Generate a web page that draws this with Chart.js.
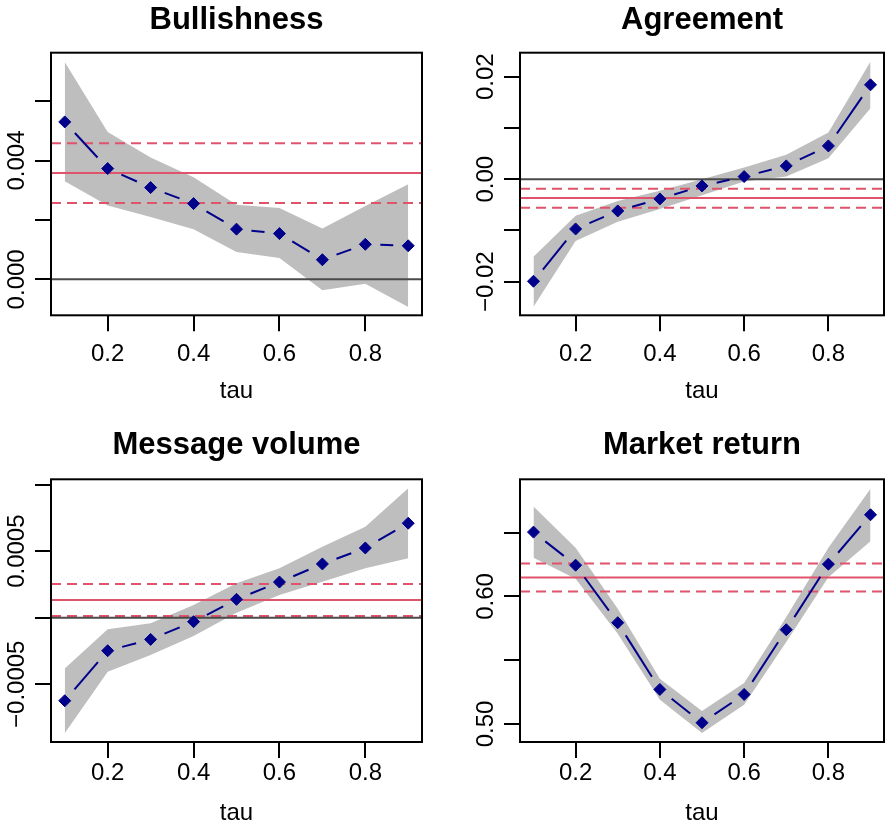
<!DOCTYPE html>
<html>
<head>
<meta charset="utf-8">
<script src="https://cdn.jsdelivr.net/npm/chart.js@4/dist/chart.umd.min.js"></script>
<style>
  html, body { margin: 0; padding: 0; background: #fff; width: 891px; height: 826px; overflow: hidden; }
  canvas { position: absolute; }
</style>
</head>
<body>
<canvas id="bull" width="445" height="413" style="left:0;top:0"></canvas>
<canvas id="agree" width="446" height="413" style="left:445px;top:0"></canvas>
<canvas id="msg" width="445" height="420" style="left:0;top:413px"></canvas>
<canvas id="mkt" width="446" height="420" style="left:445px;top:413px"></canvas>
<script>
// Quantile levels
const TAU = [0.1, 0.2, 0.3, 0.4, 0.5, 0.6, 0.7, 0.8, 0.9];
const TAU_TICKS = [0.2, 0.4, 0.6, 0.8];
const TAU_TICK_LABELS = ['0.2', '0.4', '0.6', '0.8'];
const TAU_MIN = 0.068, TAU_MAX = 0.932;

// Bullishness
const BULL_EST   = [0.00530, 0.00373, 0.00309, 0.00255, 0.00169, 0.00154, 0.00066, 0.00118, 0.00113];
const BULL_UPPER = [0.00732, 0.00496, 0.00410, 0.00344, 0.00251, 0.00240, 0.00171, 0.00247, 0.00320];
const BULL_LOWER = [0.00330, 0.00249, 0.00210, 0.00169, 0.00092, 0.00072, -0.00037, -0.00015, -0.00093];
const BULL_OLS = 0.00358, BULL_OLS_LO = 0.00257, BULL_OLS_HI = 0.00458;
const BULL_TICKS = [0, 0.002, 0.004, 0.006];
const BULL_TICK_LABELS = ['0.000', '', '0.004', ''];

// Agreement
const AGREE_EST   = [-0.01992, -0.00971, -0.00619, -0.00385, -0.00131, 0.00051, 0.00260, 0.00650, 0.01842];
const AGREE_UPPER = [-0.01512, -0.00711, -0.00424, -0.00223, 0.00000, 0.00227, 0.00475, 0.00910, 0.02297];
const AGREE_LOWER = [-0.02488, -0.01205, -0.00828, -0.00580, -0.00313, -0.00047, 0.00051, 0.00410, 0.01387];
const AGREE_OLS = -0.00365, AGREE_OLS_LO = -0.00555, AGREE_OLS_HI = -0.00184;
const AGREE_TICKS = [-0.02, -0.01, 0, 0.01, 0.02];
const AGREE_TICK_LABELS = ['\u22120.02', '', '0.00', '', '0.02'];

// Message volume
const MSG_EST   = [-0.000624, -0.000248, -0.000163, -0.000030, 0.000138, 0.000268, 0.000404, 0.000524, 0.000710];
const MSG_UPPER = [-0.000381, -0.000087, -0.000042, 0.000095, 0.000259, 0.000371, 0.000534, 0.000684, 0.000973];
const MSG_LOWER = [-0.000869, -0.000406, -0.000281, -0.000138, 0.000038, 0.000171, 0.000271, 0.000371, 0.000447];
const MSG_OLS = 0.000133, MSG_OLS_LO = 0.000013, MSG_OLS_HI = 0.000253;
const MSG_TICKS = [-0.0005, 0, 0.0005, 0.001];
const MSG_TICK_LABELS = ['\u22120.0005', '', '0.0005', ''];

// Market return
const MKT_EST   = [0.6504, 0.6245, 0.5794, 0.5271, 0.5010, 0.5232, 0.5739, 0.6253, 0.6640];
const MKT_UPPER = [0.6705, 0.6382, 0.5904, 0.5355, 0.5101, 0.5321, 0.5838, 0.6382, 0.6843];
const MKT_LOWER = [0.6303, 0.6139, 0.5708, 0.5190, 0.4929, 0.5151, 0.5642, 0.6151, 0.6433];
const MKT_OLS = 0.6149, MKT_OLS_LO = 0.6039, MKT_OLS_HI = 0.6259;
const MKT_TICKS = [0.50, 0.55, 0.60, 0.65];
const MKT_TICK_LABELS = ['0.50', '', '0.60', ''];

const FAMILY = '"Liberation Sans", Arial, Helvetica, sans-serif';
const NAVY = '#00008B';
const RED = '#DF536B';
const BAND = '#BEBEBE';
const TICK_LEN = 16;
const POINT_GAP = 15;   // blank space left around each plotted point
const X_FONT = 24, Y_FONT = 24, TITLE_FONT = 31;

Chart.defaults.color = '#000';
Chart.defaults.font.family = FAMILY;

const measureCtx = document.createElement('canvas').getContext('2d');
function textWidth(str, size) {
  measureCtx.font = size + 'px ' + FAMILY;
  return measureCtx.measureText(str).width;
}

const pts = vals => TAU.map((t, i) => ({ x: t, y: vals[i] }));
const hline = v => [{ x: TAU_MIN, y: v }, { x: TAU_MAX, y: v }];

// frame drawn around the plotting region
const framePlugin = {
  id: 'frame',
  afterDatasetsDraw(chart) {
    const a = chart.chartArea, ctx = chart.ctx;
    ctx.save();
    ctx.strokeStyle = '#000';
    ctx.lineWidth = 2;
    ctx.strokeRect(a.left, a.top, a.right - a.left, a.bottom - a.top);
    ctx.restore();
  }
};

function panel(id, p) {
  const widest = Math.max(...p.tickLabels.map(s => textWidth(s, Y_FONT)));
  const datasets = [
    {
      data: pts(p.est), borderColor: NAVY, borderWidth: 2, fill: false,
      pointStyle: 'rectRot', pointRadius: 6, pointBorderWidth: 1,
      pointBackgroundColor: NAVY, pointBorderColor: NAVY, borderCapStyle: 'butt',
      segment: {
        borderDash: c => {
          const len = Math.hypot(c.p1.x - c.p0.x, c.p1.y - c.p0.y);
          return [0, POINT_GAP, Math.max(0, len - 2 * POINT_GAP), len + 50];
        }
      }
    }
  ];
  if (p.zero) {
    datasets.push({ data: hline(0), borderColor: '#4a4a4a', borderWidth: 2, pointRadius: 0, fill: false });
  }
  datasets.push(
    { data: hline(p.ols), borderColor: RED, borderWidth: 2, pointRadius: 0, fill: false },
    { data: hline(p.olsHi), borderColor: RED, borderWidth: 2, borderDash: [10, 6], pointRadius: 0, fill: false },
    { data: hline(p.olsLo), borderColor: RED, borderWidth: 2, borderDash: [10, 6], pointRadius: 0, fill: false },
    { data: pts(p.upper), borderWidth: 0, pointRadius: 0, backgroundColor: BAND, fill: '+1' },
    { data: pts(p.lower), borderWidth: 0, pointRadius: 0, backgroundColor: BAND, fill: false }
  );

  return new Chart(document.getElementById(id), {
    type: 'line',
    data: { datasets },
    plugins: [framePlugin],
    options: {
      responsive: false,
      animation: false,
      events: [],
      layout: { padding: { left: 0, right: p.padRight, top: 0, bottom: 0 } },
      plugins: {
        legend: { display: false },
        tooltip: { enabled: false },
        title: {
          display: true, text: p.title, fullSize: false, color: '#000',
          font: { family: FAMILY, size: TITLE_FONT, weight: 'bold', lineHeight: 1.2 },
          padding: { top: p.titleTop, bottom: p.titleBottom }
        }
      },
      scales: {
        x: {
          type: 'linear', min: TAU_MIN, max: TAU_MAX,
          afterBuildTicks: s => { s.ticks = TAU_TICKS.map(v => ({ value: v })); },
          afterFit: s => { s.height = p.xHeight; },
          ticks: {
            autoSkip: false, maxRotation: 0, color: '#000', padding: p.xLabelPad,
            font: { family: FAMILY, size: X_FONT, lineHeight: 1.2 },
            callback: (v, i) => TAU_TICK_LABELS[i]
          },
          grid: { display: true, drawOnChartArea: false, drawTicks: true, tickLength: TICK_LEN, color: '#000', lineWidth: 2 },
          border: { display: false },
          title: {
            display: true, text: 'tau', color: '#000',
            font: { family: FAMILY, size: X_FONT, lineHeight: 1.2 },
            padding: { top: 0, bottom: p.tauPad }
          }
        },
        y: {
          type: 'linear', min: p.yMin, max: p.yMax,
          afterBuildTicks: s => { s.ticks = p.ticks.map(v => ({ value: v })); },
          afterFit: s => { s.width = p.yWidth; },
          ticks: {
            autoSkip: false, minRotation: 90, maxRotation: 90, crossAlign: 'center',
            padding: 34 - TICK_LEN - widest / 2, color: '#000',
            font: { family: FAMILY, size: Y_FONT, lineHeight: 1.2 },
            callback: (v, i) => p.tickLabels[i]
          },
          grid: { display: true, drawOnChartArea: false, drawTicks: true, tickLength: TICK_LEN, color: '#000', lineWidth: 2 },
          border: { display: false }
        }
      }
    }
  });
}

const TOP_ROW = { titleTop: 1.4, titleBottom: 14.1, xHeight: 97.7, xLabelPad: 8.3, tauPad: 6.9 };
const BOTTOM_ROW = { titleTop: 14.25, titleBottom: 14.85, xHeight: 91, xLabelPad: 1.2, tauPad: 5.2 };

panel('bull', Object.assign({
  title: 'Bullishness', est: BULL_EST, upper: BULL_UPPER, lower: BULL_LOWER,
  ols: BULL_OLS, olsLo: BULL_OLS_LO, olsHi: BULL_OLS_HI, zero: true,
  yMin: -0.00121, yMax: 0.00763, ticks: BULL_TICKS, tickLabels: BULL_TICK_LABELS,
  yWidth: 51, padRight: 23
}, TOP_ROW));

panel('agree', Object.assign({
  title: 'Agreement', est: AGREE_EST, upper: AGREE_UPPER, lower: AGREE_LOWER,
  ols: AGREE_OLS, olsLo: AGREE_OLS_LO, olsHi: AGREE_OLS_HI, zero: true,
  yMin: -0.02656, yMax: 0.02469, ticks: AGREE_TICKS, tickLabels: AGREE_TICK_LABELS,
  yWidth: 75, padRight: 1
}, TOP_ROW));

panel('msg', Object.assign({
  title: 'Message volume', est: MSG_EST, upper: MSG_UPPER, lower: MSG_LOWER,
  ols: MSG_OLS, olsLo: MSG_OLS_LO, olsHi: MSG_OLS_HI, zero: true,
  yMin: -0.000934, yMax: 0.00104, ticks: MSG_TICKS, tickLabels: MSG_TICK_LABELS,
  yWidth: 51, padRight: 23
}, BOTTOM_ROW));

panel('mkt', Object.assign({
  title: 'Market return', est: MKT_EST, upper: MKT_UPPER, lower: MKT_LOWER,
  ols: MKT_OLS, olsLo: MKT_OLS_LO, olsHi: MKT_OLS_HI, zero: false,
  yMin: 0.4859, yMax: 0.6918, ticks: MKT_TICKS, tickLabels: MKT_TICK_LABELS,
  yWidth: 75, padRight: 1
}, BOTTOM_ROW));
</script>
</body>
</html>
